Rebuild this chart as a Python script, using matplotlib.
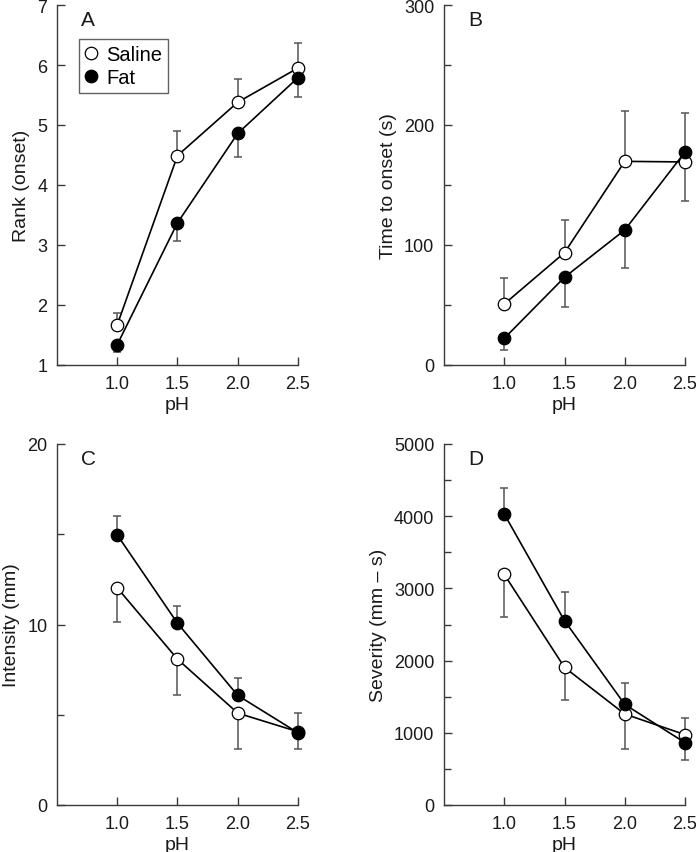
import numpy as np
import matplotlib
matplotlib.use('Agg')
from matplotlib import pyplot as plt
from matplotlib.ticker import MultipleLocator

plt.rcParams['font.family'] = ['Liberation Sans', 'DejaVu Sans']

ph = [1.0, 1.5, 2.0, 2.5]
ph_labels = ['1.0', '1.5', '2.0', '2.5']

# A - rank (onset)
rank_saline = [1.67, 4.49, 5.38, 5.95]
rank_saline_lo = [0, 0, 0, 0]
rank_saline_hi = [0.20, 0.41, 0.39, 0.42]
rank_fat = [1.34, 3.37, 4.86, 5.79]
rank_fat_lo = [0.12, 0.31, 0.40, 0.33]
rank_fat_hi = [0, 0, 0, 0]

# B - time to onset (s)
time_saline = [50.8, 93.6, 169.7, 169.2]
time_saline_lo = [0, 0, 0, 0]
time_saline_hi = [21.4, 27.5, 42.0, 41.1]
time_fat = [22.2, 73.1, 112.5, 177.5]
time_fat_lo = [10.0, 24.8, 31.4, 40.8]
time_fat_hi = [0, 0, 0, 0]

# C - intensity (mm)
int_saline = [12.03, 8.08, 5.09, 4.06]
int_saline_lo = [1.90, 2.01, 1.99, 0.96]
int_saline_hi = [0, 0, 0, 0]
int_fat = [14.96, 10.07, 6.07, 4.0]
int_fat_lo = [0, 0, 0, 0]
int_fat_hi = [1.04, 0.98, 0.97, 1.10]

# D - severity (mm - s)
sev_saline = [3194, 1906, 1260, 974]
sev_saline_lo = [590, 448, 480, 0]
sev_saline_hi = [0, 0, 0, 225]
sev_fat = [4030, 2553, 1393, 863]
sev_fat_lo = [0, 0, 0, 236]
sev_fat_hi = [355, 401, 297, 0]

panels = [
    ('A', 'Rank (onset)', (1, 7), 1, None,
     rank_saline, rank_saline_lo, rank_saline_hi, rank_fat, rank_fat_lo, rank_fat_hi),
    ('B', 'Time to onset (s)', (0, 300), 100, 50,
     time_saline, time_saline_lo, time_saline_hi, time_fat, time_fat_lo, time_fat_hi),
    ('C', 'Intensity (mm)', (0, 20), 10, 5,
     int_saline, int_saline_lo, int_saline_hi, int_fat, int_fat_lo, int_fat_hi),
    ('D', 'Severity (mm \u2013 s)', (0, 5000), 1000, 500,
     sev_saline, sev_saline_lo, sev_saline_hi, sev_fat, sev_fat_lo, sev_fat_hi),
]

W, H = 696, 853
fig = plt.figure(figsize=(W / 100, H / 100), dpi=100)
# axes boxes in pixels: left, top, right, bottom
boxes = [(57, 6, 298, 366), (444, 6, 685, 366),
         (57, 445, 298, 806), (444, 445, 685, 806)]

spine_col = '#3a3a3a'
for (lab, ylab, ylim, major, minor, s, s_lo, s_hi, f, f_lo, f_hi), (l, t, r, b) in zip(panels, boxes):
    ax = fig.add_axes([l / W, 1 - b / H, (r - l) / W, (b - t) / H])
    ax.errorbar(ph, s, yerr=[s_lo, s_hi], fmt='none', ecolor='#555555',
                elinewidth=1.1, capsize=2.6, capthick=1.1, clip_on=False, zorder=2)
    ax.errorbar(ph, f, yerr=[f_lo, f_hi], fmt='none', ecolor='#555555',
                elinewidth=1.1, capsize=2.6, capthick=1.1, clip_on=False, zorder=2)
    ax.plot(ph, s, '-o', color='black', mfc='white', mec='black', ms=9, mew=0.9,
            lw=1.2, clip_on=False, zorder=3, label='Saline')
    ax.plot(ph, f, '-o', color='black', mfc='black', mec='black', ms=9, mew=0.9,
            lw=1.2, clip_on=False, zorder=4, label='Fat')
    ax.set_xlim(0.5, 2.5)
    ax.set_ylim(*ylim)
    ax.set_xticks(ph)
    ax.set_xticklabels(ph_labels)
    ax.yaxis.set_major_locator(MultipleLocator(major))
    if minor:
        ax.yaxis.set_minor_locator(MultipleLocator(minor))
    ax.spines['top'].set_visible(False)
    ax.spines['right'].set_visible(False)
    for sp in ['left', 'bottom']:
        ax.spines[sp].set_color(spine_col)
        ax.spines[sp].set_linewidth(1.0)
    ax.tick_params(which='major', direction='in', length=6, width=1.0,
                   color=spine_col, labelsize=13, pad=7, labelcolor='#1a1a1a')
    ax.tick_params(which='minor', direction='in', length=5, width=1.0, color=spine_col)
    ax.set_xlabel('pH', fontsize=14, color='#1a1a1a', labelpad=3)
    ax.set_ylabel(ylab, fontsize=14, color='#1a1a1a', labelpad=5)
    ax.text(0.1, 0.985, lab, transform=ax.transAxes, fontsize=15, va='top',
            ha='left', color='#1a1a1a')
    if lab == 'A':
        leg = ax.legend(loc='upper left', bbox_to_anchor=(0.091, 0.906), fontsize=14.5,
                        frameon=True, fancybox=False, handlelength=0.6,
                        handletextpad=0.45, borderpad=0.3, labelspacing=0.2,
                        borderaxespad=0)
        leg.get_frame().set_edgecolor(spine_col)
        leg.get_frame().set_linewidth(1.0)
        for h in leg.legend_handles:
            h.set_linestyle('none')

fig.savefig('out.png', dpi=100)
